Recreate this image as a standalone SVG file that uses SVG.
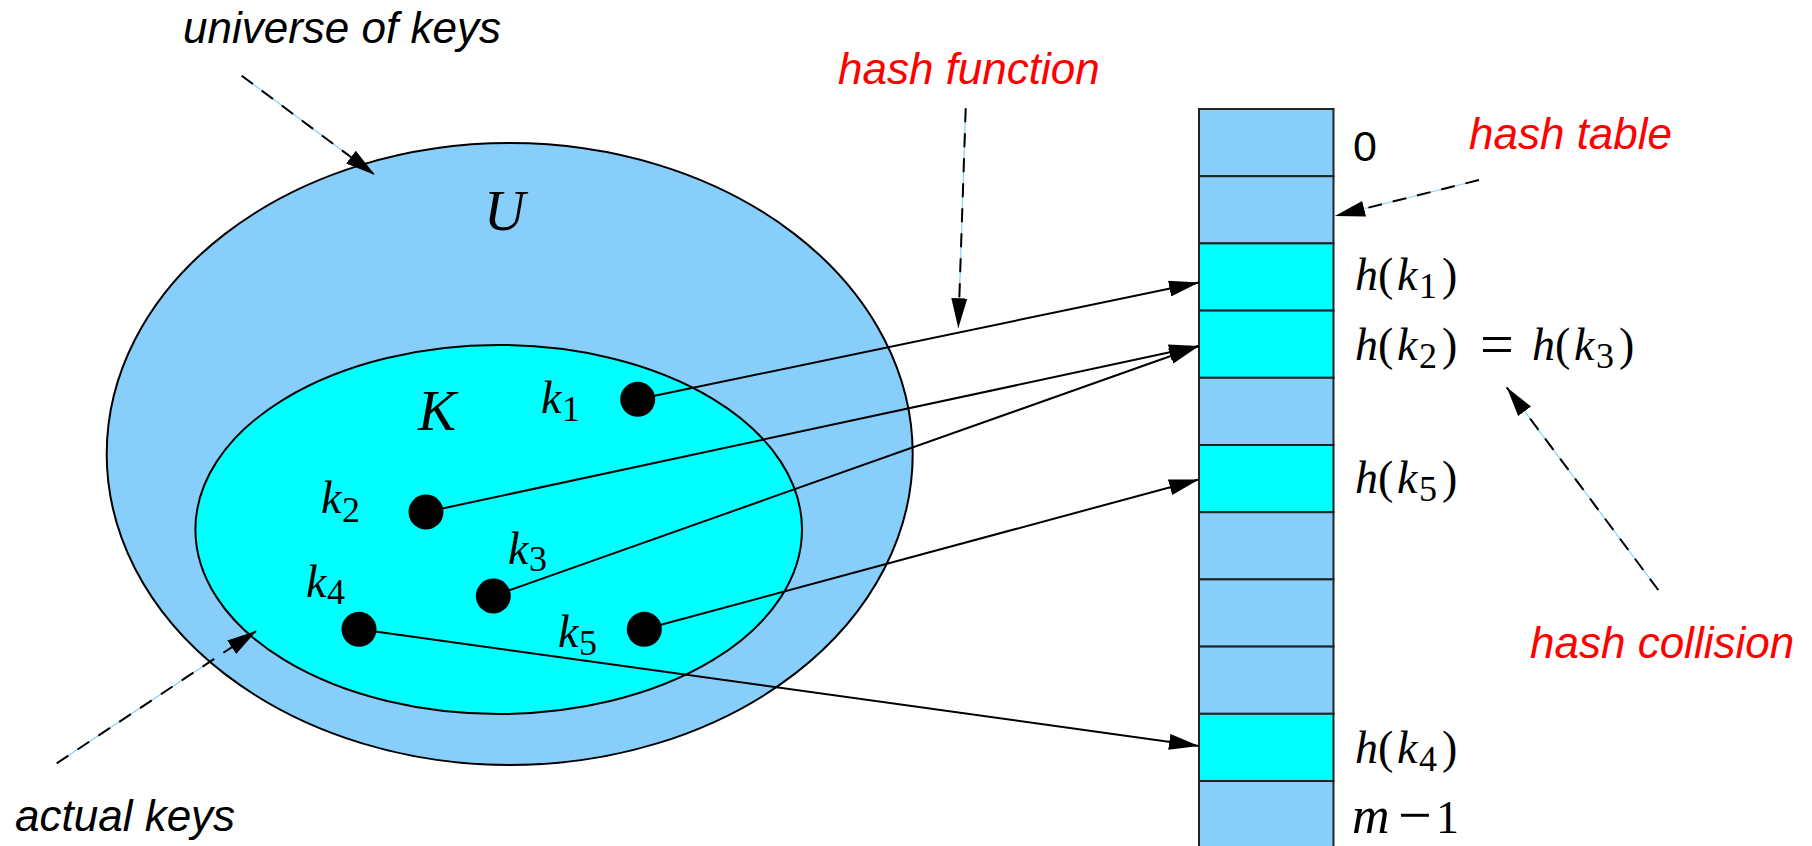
<svg xmlns="http://www.w3.org/2000/svg" width="1812" height="846" viewBox="0 0 1812 846">
<style>
.lbl{font-family:'Liberation Sans',Arial,sans-serif;font-style:italic;font-size:44px;fill:#000}
.red{fill:#ff0000}
.num{font-family:'Liberation Sans',Arial,sans-serif;font-size:43px;fill:#000}
.m{font-family:'Liberation Serif','Times New Roman',serif;font-size:46px;fill:#000}
.it{font-style:italic}
.sub{font-size:36px;font-style:normal}
.up{font-style:normal}
.big{font-family:'Liberation Serif','Times New Roman',serif;font-style:italic;font-size:57px;fill:#000}
.set1{fill:#87cefa;stroke:#000;stroke-width:2}
.set2{fill:#00ffff;stroke:#000;stroke-width:2}
.cell{fill:#87cefa;stroke:#222;stroke-width:2}
.hit{fill:#00ffff;stroke:#222;stroke-width:2}
.conn{stroke:#000;stroke-width:2;fill:none}
.dbg{stroke:#87cefa;stroke-width:1.2;fill:none}
.dash{stroke:#000;stroke-width:2;stroke-dasharray:14 11;fill:none}
</style>
<defs>
<marker id="ah" markerUnits="userSpaceOnUse" markerWidth="30" markerHeight="16" refX="30" refY="8" orient="auto" viewBox="0 0 30 16"><path d="M0,0 L30,8 L0,16 z" fill="#000"/></marker>
</defs>
<rect width="1812" height="846" fill="#fff"/>

<g id="universe">
<ellipse class="set1" cx="509.7" cy="454" rx="403" ry="311"/>
<text class="big" x="484" y="230">U</text>
</g>
<g id="actual-keys-set">
<ellipse class="set2" cx="498.7" cy="529.5" rx="303.3" ry="184.5"/>
<text class="big" x="418" y="430">K</text>
</g>

<g id="hash-table">
<rect class="cell" x="1199" y="109" width="134.5" height="67.2"/>
<rect class="cell" x="1199" y="176.2" width="134.5" height="67.2"/>
<rect class="hit" x="1199" y="243.4" width="134.5" height="67.2"/>
<rect class="hit" x="1199" y="310.6" width="134.5" height="67.2"/>
<rect class="cell" x="1199" y="377.8" width="134.5" height="67.2"/>
<rect class="hit" x="1199" y="445" width="134.5" height="67.2"/>
<rect class="cell" x="1199" y="512.2" width="134.5" height="67.2"/>
<rect class="cell" x="1199" y="579.4" width="134.5" height="67.2"/>
<rect class="cell" x="1199" y="646.6" width="134.5" height="67.2"/>
<rect class="hit" x="1199" y="713.8" width="134.5" height="67.2"/>
<rect class="cell" x="1199" y="781" width="134.5" height="67.2"/>
</g>

<g id="slot-labels">
<text class="num" x="1353" y="161">0</text>
<text class="m"><tspan class="it" x="1355" y="290">h</tspan><tspan class="up" x="1378" y="290">(</tspan><tspan class="it" x="1397" y="290">k</tspan><tspan class="sub" x="1419" y="298">1</tspan><tspan class="up" x="1442" y="290">)</tspan></text>
<text class="m"><tspan class="it" x="1355" y="360">h</tspan><tspan class="up" x="1378" y="360">(</tspan><tspan class="it" x="1397" y="360">k</tspan><tspan class="sub" x="1419" y="368">2</tspan><tspan class="up" x="1442" y="360">)</tspan><tspan class="up" x="1480" y="364" style="font-size:60px">=</tspan><tspan class="it" x="1532" y="360">h</tspan><tspan class="up" x="1555" y="360">(</tspan><tspan class="it" x="1574" y="360">k</tspan><tspan class="sub" x="1596" y="368">3</tspan><tspan class="up" x="1619" y="360">)</tspan></text>
<text class="m"><tspan class="it" x="1355" y="493">h</tspan><tspan class="up" x="1378" y="493">(</tspan><tspan class="it" x="1397" y="493">k</tspan><tspan class="sub" x="1419" y="501">5</tspan><tspan class="up" x="1442" y="493">)</tspan></text>
<text class="m"><tspan class="it" x="1355" y="763">h</tspan><tspan class="up" x="1378" y="763">(</tspan><tspan class="it" x="1397" y="763">k</tspan><tspan class="sub" x="1419" y="771">4</tspan><tspan class="up" x="1442" y="763">)</tspan></text>
<text class="m"><tspan class="it" x="1352" y="833" style="font-size:52px">m</tspan><tspan class="up" x="1398" y="835" style="font-size:60px">−</tspan><tspan class="up" x="1436" y="833">1</tspan></text>
</g>

<g id="connectors">
<line class="conn" x1="637.7" y1="399.3" x2="1199" y2="282.5" marker-end="url(#ah)"/>
<line class="conn" x1="426" y1="512" x2="1199" y2="346" marker-end="url(#ah)"/>
<line class="conn" x1="493.3" y1="596" x2="1199" y2="346" marker-end="url(#ah)"/>
<line class="conn" x1="644.3" y1="629.3" x2="1199" y2="479.5" marker-end="url(#ah)"/>
<line class="conn" x1="359" y1="629.3" x2="1199" y2="746" marker-end="url(#ah)"/>
<line class="dbg" x1="241.7" y1="75.7" x2="375" y2="175"/>
<line class="dash" x1="241.7" y1="75.7" x2="375" y2="175" marker-end="url(#ah)"/>
<line class="dbg" x1="965.7" y1="108.3" x2="958.3" y2="328.3"/>
<line class="dash" x1="965.7" y1="108.3" x2="958.3" y2="328.3" marker-end="url(#ah)"/>
<line class="dbg" x1="1479" y1="180" x2="1335" y2="216"/>
<line class="dash" x1="1479" y1="180" x2="1335" y2="216" marker-end="url(#ah)"/>
<line class="dbg" x1="1658.3" y1="590" x2="1506.7" y2="387.3"/>
<line class="dash" x1="1658.3" y1="590" x2="1506.7" y2="387.3" marker-end="url(#ah)"/>
<line class="dbg" x1="56.7" y1="763.3" x2="256.7" y2="630.7"/>
<line class="dash" x1="56.7" y1="763.3" x2="256.7" y2="630.7" marker-end="url(#ah)"/>
</g>

<g id="key-k1"><circle cx="637.7" cy="399.3" r="17.5"/><text class="m"><tspan class="it" x="541" y="413">k</tspan><tspan class="sub" x="562" y="421">1</tspan></text></g>
<g id="key-k2"><circle cx="426" cy="512" r="17.5"/><text class="m"><tspan class="it" x="321" y="513">k</tspan><tspan class="sub" x="342" y="522">2</tspan></text></g>
<g id="key-k3"><circle cx="493.3" cy="596" r="17.5"/><text class="m"><tspan class="it" x="508" y="564">k</tspan><tspan class="sub" x="529" y="571">3</tspan></text></g>
<g id="key-k4"><circle cx="359" cy="629.3" r="17.5"/><text class="m"><tspan class="it" x="306" y="597">k</tspan><tspan class="sub" x="327" y="604">4</tspan></text></g>
<g id="key-k5"><circle cx="644.3" cy="629.3" r="17.5"/><text class="m"><tspan class="it" x="558" y="647">k</tspan><tspan class="sub" x="579" y="655">5</tspan></text></g>

<g id="annotations">
<text class="lbl" x="183" y="43">universe of keys</text>
<text class="lbl red" x="838" y="84">hash function</text>
<text class="lbl red" x="1469" y="149">hash table</text>
<text class="lbl red" x="1530" y="658">hash collision</text>
<text class="lbl" x="15" y="831">actual keys</text>
</g>
</svg>
